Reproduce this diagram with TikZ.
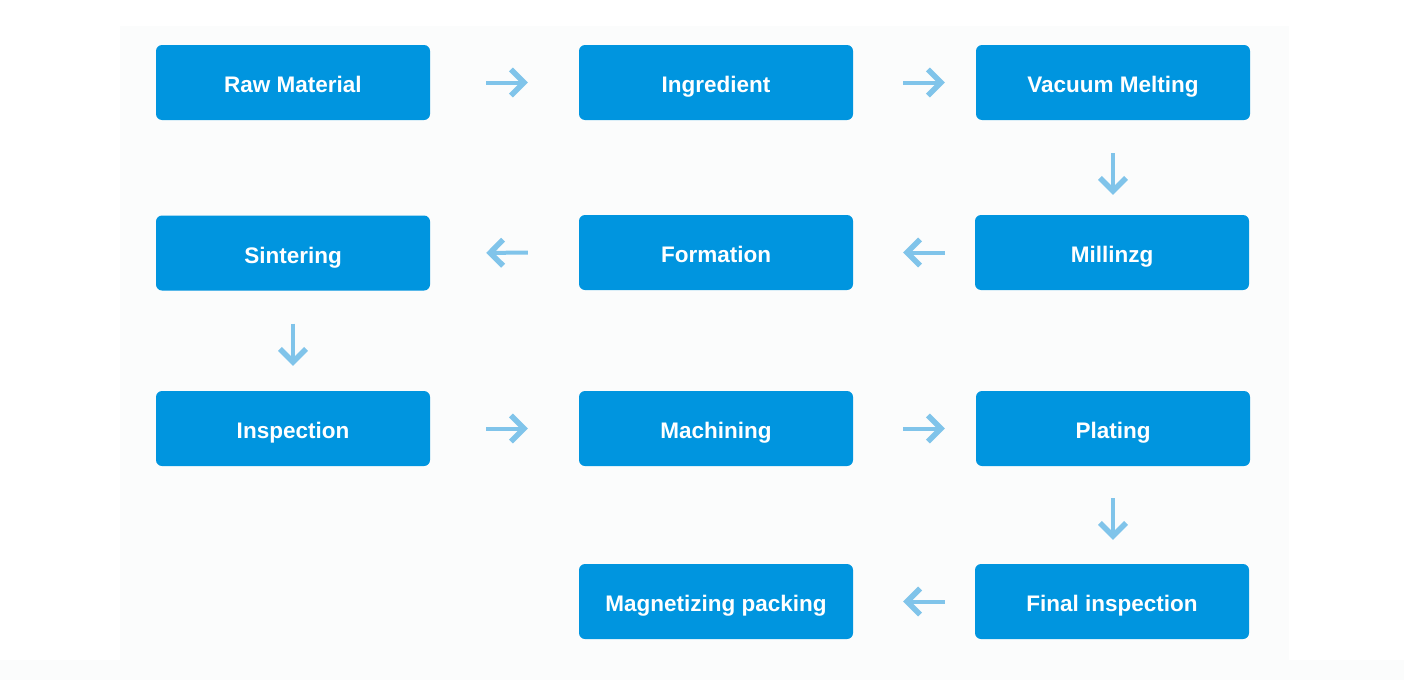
\documentclass[tikz,border=0pt]{standalone}
\usepackage{fontspec}
\setmainfont{Liberation Sans}
\usetikzlibrary{arrows.meta}
\definecolor{boxblue}{HTML}{0095DF}
\definecolor{arrblue}{HTML}{80C4EA}
\definecolor{panel}{HTML}{FBFCFC}
\begin{document}
\begin{tikzpicture}[x=1pt,y=-1pt,
  stepbox/.style={fill=boxblue, rounded corners=6pt, minimum width=274pt, minimum height=75pt,
    inner sep=0pt, text=white, text height=22pt, text depth=2pt,
    font=\fontsize{22.5}{27}\selectfont\bfseries},
  flow/.style={draw=arrblue, line width=4pt,
    -{Straight Barb[length=13pt,width=26pt,line width=5.5pt]}}]
\useasboundingbox (0,0) rectangle (1404,680);
\fill[white] (0,0) rectangle (1404,680);
\fill[panel] (120,26) rectangle (1289,660);
\fill[panel] (0,660) rectangle (1404,680);
\node[stepbox] (raw) at (293,82.5) {Raw Material};
\node[stepbox] (ing) at (716,82.5) {Ingredient};
\node[stepbox] (vac) at (1113,82.5) {Vacuum Melting};
\node[stepbox] (sin) at (293,253) {Sintering};
\node[stepbox] (for) at (716,252.5) {Formation};
\node[stepbox] (mil) at (1112,252.5) {Millinzg};
\node[stepbox] (ins) at (293,428.5) {Inspection};
\node[stepbox] (mac) at (716,428.5) {Machining};
\node[stepbox] (pla) at (1113,428.5) {Plating};
\node[stepbox] (mag) at (716,601.5) {Magnetizing packing};
\node[stepbox] (fin) at (1112,601.5) {Final inspection};
\draw[flow, shorten <=56pt, shorten >=51pt] (raw.east) -- (ing.west);
\draw[flow, shorten <=50pt, shorten >=31pt] (ing.east) -- (vac.west);
\draw[flow, shorten <=33pt, shorten >=20pt] (vac.south) -- (vac.south |- mil.north);
\draw[flow, shorten <=30pt, shorten >=50pt] (mil.west) -- (for.east);
\draw[flow, shorten <=51pt, shorten >=56pt] (for.west) -- (sin.east);
\draw[flow, shorten <=33pt, shorten >=25pt] (sin.south) -- (ins.north);
\draw[flow, shorten <=56pt, shorten >=51pt] (ins.east) -- (mac.west);
\draw[flow, shorten <=50pt, shorten >=31pt] (mac.east) -- (pla.west);
\draw[flow, shorten <=32pt, shorten >=24pt] (pla.south) -- (pla.south |- fin.north);
\draw[flow, shorten <=30pt, shorten >=50pt] (fin.west) -- (mag.east);
\end{tikzpicture}
\end{document}
